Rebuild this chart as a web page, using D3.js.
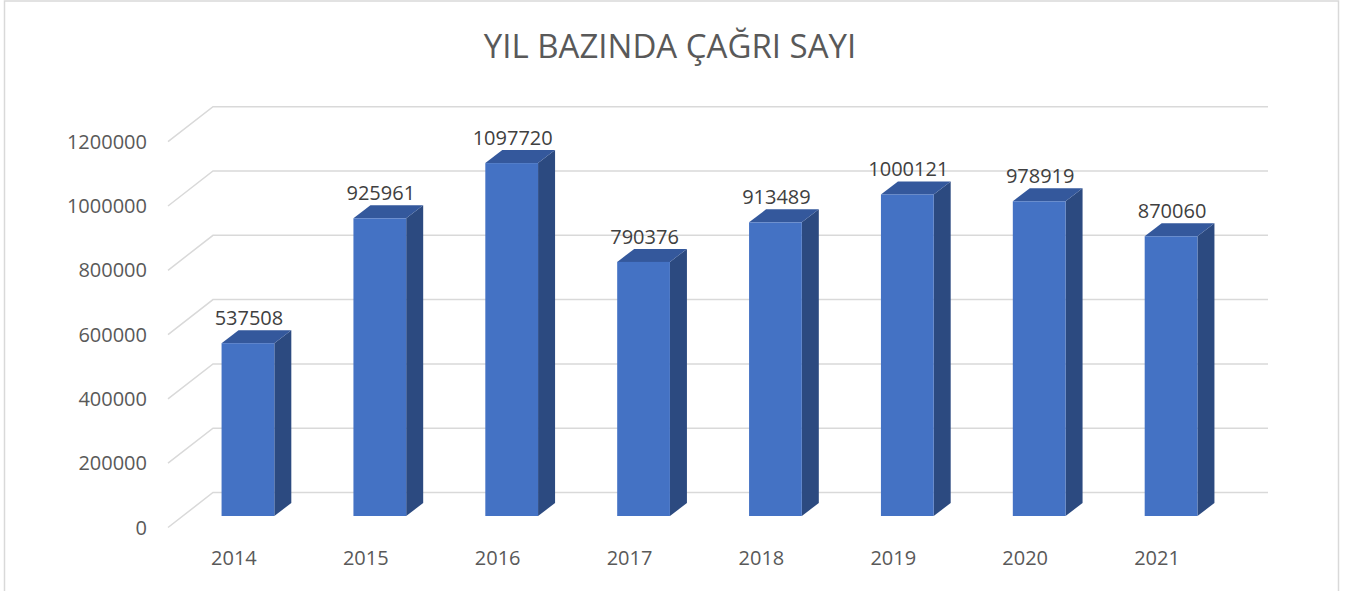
<!DOCTYPE html>
<html>
<head>
<meta charset="utf-8">
<script src="https://cdn.jsdelivr.net/npm/d3@7"></script>
<style>
  body { margin: 0; background: #fff; }
  svg { display: block; }
</style>
</head>
<body>
<div class="chart"></div>
<script>
const years = ['2014','2015','2016','2017','2018','2019','2020','2021'];
const calls = [537508, 925961, 1097720, 790376, 913489, 1000121, 978919, 870060];
const yTicks = [0, 200000, 400000, 600000, 800000, 1000000, 1200000];
const title = 'YIL BAZINDA ÇAĞRI SAYI';

const width = 1345, height = 591;
// 3d-ish offsets
const wallDx = 45, wallDy = 35;     // front floor edge -> back wall
const faceDy = 23.5, faceDx = 14;   // back wall -> bar front face
const sideDx = 17, sideDy = -13;    // bar depth

const svg = d3.select('div.chart').append('svg')
    .attr('width', width)
    .attr('height', height)
    .style('font-family', '"Open Sans", sans-serif');

// frame
svg.append('rect')
    .attr('x', 4.5).attr('y', 1)
    .attr('width', 1334).attr('height', 620)
    .attr('fill', 'none')
    .attr('stroke', '#d9d9d9')
    .attr('stroke-width', 1.5);

svg.append('text')
    .attr('x', 670).attr('y', 58)
    .attr('text-anchor', 'middle')
    .attr('font-size', 33)
    .attr('fill', '#595959')
    .text(title);

var y = d3.scaleLinear()
    .domain([0, 1200000])
    .range([492.5, 106.7]);

// x band along the front floor edge
var x = d3.scaleBand()
    .domain(years)
    .range([168, 1223])
    .paddingInner(0.6)
    .paddingOuter(0.3);

// gridlines: back wall + side diagonal
var grid = svg.append('g');
grid.selectAll('path')
    .data(yTicks)
    .enter()
    .append('path')
        .attr('d', d => `M${168},${y(d) + wallDy} L${168 + wallDx},${y(d)} L${1268},${y(d)}`)
        .attr('fill', 'none')
        .attr('stroke', '#d9d9d9')
        .attr('stroke-width', 1.5);

svg.append('g')
    .selectAll('text')
    .data(yTicks)
    .enter()
    .append('text')
        .attr('x', 147)
        .attr('y', d => y(d) + wallDy)
        .attr('dy', '0.35em')
        .attr('text-anchor', 'end')
        .attr('font-size', 20)
        .attr('fill', '#595959')
        .text(d => d);

const data = years.map((yr, i) => ({ year: yr, v: calls[i] }));

var bars = svg.append('g')
    .selectAll('g')
    .data(data)
    .enter()
    .append('g');

const fx = d => x(d.year) + faceDx;          // front face left
const fw = x.bandwidth();
const ftop = d => y(d.v) + faceDy;
const fbot = y(0) + faceDy;

// side face
bars.append('path')
    .attr('d', d => `M${fx(d) + fw},${ftop(d)} L${fx(d) + fw + sideDx},${ftop(d) + sideDy} L${fx(d) + fw + sideDx},${fbot + sideDy} L${fx(d) + fw},${fbot} Z`)
    .attr('fill', '#2c4a80');

// top face
bars.append('path')
    .attr('d', d => `M${fx(d)},${ftop(d)} L${fx(d) + sideDx},${ftop(d) + sideDy} L${fx(d) + fw + sideDx},${ftop(d) + sideDy} L${fx(d) + fw},${ftop(d)} Z`)
    .attr('fill', '#34589c');

// front face
bars.append('rect')
    .attr('x', fx)
    .attr('y', ftop)
    .attr('width', fw)
    .attr('height', d => fbot - ftop(d))
    .attr('fill', '#4472c4');

bars.append('text')
    .attr('x', d => fx(d) + fw / 2 + 1)
    .attr('y', d => ftop(d) - 18)
    .attr('text-anchor', 'middle')
    .attr('font-size', 20)
    .attr('fill', '#404040')
    .text(d => d.v);

svg.append('g')
    .selectAll('text')
    .data(years)
    .enter()
    .append('text')
        .attr('x', d => x(d) + fw / 2)
        .attr('y', 565)
        .attr('text-anchor', 'middle')
        .attr('font-size', 20)
        .attr('fill', '#595959')
        .text(d => d);
</script>
</body>
</html>
